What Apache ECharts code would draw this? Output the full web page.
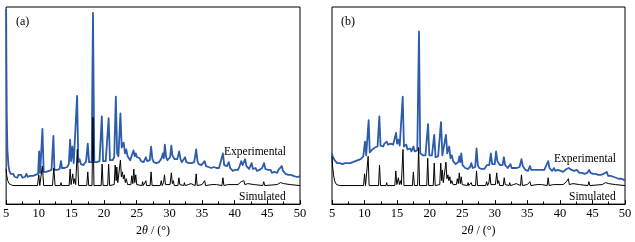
<!DOCTYPE html>
<html>
<head>
<meta charset="utf-8">
<script src="https://cdn.jsdelivr.net/npm/echarts@6/dist/echarts.min.js"></script>
<style>
  html, body { margin: 0; padding: 0; background: #fff; }
  #chart { width: 635px; height: 242px; }
</style>
</head>
<body>
<div id="chart"></div>
<script>
// x = 2theta (deg), y = intensity (arbitrary)
const xTicks = [5, 10, 15, 20, 25, 30, 35, 40, 45, 50];

const expA = [
  [5.0,200],[5.04,150],[5.1,90],[5.2,55],[5.35,40],[5.5,34],[5.7,31],[5.9,29],[6.1,31],[6.3,28],[6.5,30],[6.7,27],[6.9,30],[7.1,28],[7.3,30],[7.5,27],[7.7,29],[7.9,28],[8.1,31],[8.3,28],[8.5,30],[8.7,29],[8.9,31],[9.1,29],[9.3,31],[9.5,30],[9.7,32],[9.9,31],
  [10.05,54],[10.2,32],[10.35,33],[10.56,77],[10.75,33],[10.95,31],[11.15,33],[11.35,32],[11.55,34],[11.75,33],[11.95,35],[12.1,34],[12.24,70],[12.4,35],[12.6,36],[12.8,35],[13.0,37],[13.2,36],[13.4,44],[13.55,37],[13.75,38],[13.95,37],[14.15,39],[14.35,38],[14.6,41],[14.8,66],[14.95,44],[15.15,59],[15.35,42],[15.55,44],[15.87,111],[16.05,43],[16.25,46],[16.45,41],[16.65,43],[16.85,40],[17.05,42],[17.25,44],[17.5,62],[17.7,43],[17.9,41],[18.1,43],[18.3,196],[18.5,43],[18.7,41],[18.9,43],[19.1,42],[19.3,44],[19.5,45],[19.65,90],[19.85,44],
  [20.05,42],[20.25,44],[20.5,46],[20.7,88],[20.9,45],[21.1,43],[21.3,45],[21.55,48],[21.8,110],[22.0,52],[22.2,49],[22.5,93],[22.7,58],[23.0,63],[23.2,52],[23.4,56],[23.6,49],[23.8,47],[24.0,45],[24.2,47],[24.5,55],[24.7,49],[24.85,52],[25.05,48],[25.25,46],[25.45,47],[25.65,44],[25.85,46],[26.05,43],[26.2,45],[26.4,48],[26.6,44],[26.8,43],[27.0,45],[27.2,59],[27.4,46],[27.6,43],[27.8,44],[28.0,42],[28.2,44],[28.4,43],[28.6,45],[28.8,47],[29.0,52],[29.15,47],[29.3,61],[29.5,48],[29.7,45],[29.9,46],
  [30.1,48],[30.3,60],[30.45,50],[30.6,52],[30.8,46],[31.0,44],[31.2,46],[31.5,54],[31.7,46],[31.9,43],[32.1,44],[32.4,48],[32.6,43],[32.8,41],[33.0,42],[33.2,40],[33.4,42],[33.6,41],[33.8,43],[34.1,56],[34.3,44],[34.5,41],[34.7,39],[34.9,40],[35.1,38],[35.4,44],[35.6,39],[35.8,37],[36.0,38],[36.2,36],[36.4,37],[36.6,36],[36.8,38],[37.0,36],[37.2,37],[37.4,35],[37.6,37],[37.8,38],[38.2,52],[38.4,40],[38.6,38],[38.8,39],[39.1,43],[39.3,37],[39.5,35],[39.7,34],[39.9,36],
  [40.1,35],[40.3,37],[40.5,35],[40.7,38],[41.0,44],[41.2,40],[41.35,42],[41.6,46],[41.8,39],[42.0,37],[42.2,36],[42.4,38],[42.6,42],[42.8,36],[43.0,35],[43.2,37],[43.4,34],[43.6,36],[43.8,35],[44.0,36],[44.2,37],[44.5,42],[44.7,36],[44.9,34],[45.1,35],[45.3,33],[45.5,35],[45.7,32],[45.9,34],[46.1,33],[46.3,34],[46.5,32],[46.7,35],[46.9,36],[47.2,39],[47.4,34],[47.6,33],[47.8,31],[48.0,32],[48.2,30],[48.4,32],[48.6,30],[48.8,31],[49.0,29],[49.2,30],[49.4,28],[49.6,29],[49.8,28],[50.0,29]
];

const simA = [
  [5.0,36],[5.1,29],[5.25,24],[5.45,21],[5.7,20],[6.0,19],[9.8,19],[10.0,30],[10.15,19],[10.35,19],[10.55,39],[10.75,19],[12.1,19],[12.3,37],[12.5,19],[13.3,19],[13.4,22],[13.5,19],[14.65,19],[14.8,36],[14.95,20],[15.2,31],[15.35,21],[15.5,26],[15.65,20],[15.9,56],[16.1,19],[17.35,19],[17.5,33],[17.65,19],[18.15,19],[18.3,89],[18.45,19],[19.55,19],[19.7,41],[19.85,19],
  [20.55,19],[20.7,41],[20.85,19],[21.55,20],[21.7,40],[21.85,24],[21.95,38],[22.1,22],[22.35,24],[22.5,45],[22.65,28],[22.8,33],[22.95,26],[23.1,30],[23.25,22],[23.4,26],[23.6,20],[24.1,20],[24.25,29],[24.4,21],[24.55,36],[24.7,22],[24.85,30],[25.0,20],[25.8,19],[25.9,23],[26.0,19],[26.3,19],[26.4,24],[26.5,19],[27.05,19],[27.2,33],[27.35,19],[28.6,19],[28.75,24],[28.9,19],[29.1,22],[29.25,30],[29.4,20],
  [30.1,20],[30.3,32],[30.45,21],[30.6,24],[30.75,19],[31.3,19],[31.45,27],[31.6,20],[32.2,19],[32.3,22],[32.4,19],[32.9,20],[33.3,21],[33.95,19],[34.1,31],[34.25,19],[35.0,20],[35.3,19],[35.4,24],[35.55,19],[36.5,20],[37.2,20],[38.05,19],[38.2,27],[38.35,19],[39.0,20],[40.5,20],[41.0,23],[41.2,21],[41.4,24],[41.55,20],[42.0,21],[43.0,20],[44.3,19],[44.45,23],[44.6,19],[46.5,20],[47.0,22],[47.2,20],[47.5,21],[48.5,20],[50.0,19]
];

const expB = [
  [5.0,52],[5.1,49],[5.25,47],[5.4,45],[5.6,44],[5.8,42],[6.0,44],[6.2,42],[6.4,43],[6.6,41],[6.8,43],[7.0,42],[7.2,44],[7.4,42],[7.6,43],[7.8,42],[8.0,44],[8.2,43],[8.4,45],[8.6,44],[8.8,46],[9.0,45],[9.2,47],[9.4,46],[9.6,48],[9.8,49],
  [10.07,64],[10.25,50],[10.4,51],[10.63,86],[10.8,53],[11.0,54],[11.2,56],[11.4,55],[11.6,58],[11.8,57],[12.0,59],[12.27,90],[12.45,60],[12.65,61],[12.85,59],[13.05,62],[13.25,60],[13.4,64],[13.6,61],[13.8,60],[14.0,62],[14.2,60],[14.4,61],[14.6,62],[14.83,73],[15.0,62],[15.2,66],[15.4,60],[15.6,59],[15.86,110],[16.05,59],[16.25,57],[16.4,61],[16.6,56],[16.8,55],[17.0,57],[17.2,54],[17.5,59],[17.7,54],[17.9,53],[18.1,55],[18.36,177],[18.55,52],[18.75,53],[18.95,50],[19.15,52],[19.35,50],[19.55,52],[19.75,82],[19.95,50],
  [20.15,48],[20.35,50],[20.5,49],[20.7,71],[20.9,48],[21.1,47],[21.3,49],[21.5,48],[21.74,84],[21.95,50],[22.15,48],[22.5,71],[22.7,52],[23.0,59],[23.2,47],[23.4,50],[23.6,44],[23.8,42],[24.0,41],[24.2,40],[24.4,43],[24.56,49],[24.7,43],[24.85,52],[25.05,40],[25.25,38],[25.45,37],[25.65,38],[25.85,36],[26.05,37],[26.2,38],[26.4,42],[26.6,37],[26.8,36],[27.0,38],[27.2,57],[27.4,40],[27.6,37],[27.8,38],[28.0,36],[28.2,37],[28.4,36],[28.6,38],[28.8,40],[29.0,42],[29.15,40],[29.4,52],[29.6,41],[29.8,39],
  [30.0,41],[30.2,54],[30.4,44],[30.6,45],[30.8,40],[31.0,38],[31.2,40],[31.4,48],[31.6,40],[31.8,38],[32.0,37],[32.2,39],[32.4,41],[32.6,37],[32.8,36],[33.0,37],[33.2,35],[33.4,37],[33.6,36],[33.8,38],[34.1,46],[34.3,39],[34.5,37],[34.7,35],[34.9,36],[35.1,34],[35.4,39],[35.6,35],[35.8,34],[36.0,35],[36.2,33],[36.4,35],[36.6,34],[36.8,35],[37.0,33],[37.2,35],[37.4,34],[37.6,35],[37.8,36],[38.2,44],[38.4,37],[38.6,35],[38.8,34],[39.1,37],[39.3,34],[39.5,33],[39.7,35],[39.9,33],
  [40.1,34],[40.3,35],[40.5,33],[40.7,35],[41.0,36],[41.2,34],[41.35,37],[41.6,39],[41.8,35],[42.0,33],[42.2,34],[42.4,33],[42.6,35],[42.8,33],[43.0,32],[43.2,34],[43.4,32],[43.6,33],[43.8,31],[44.0,33],[44.2,32],[44.5,35],[44.7,32],[44.9,30],[45.1,31],[45.3,29],[45.5,31],[45.7,29],[45.9,30],[46.1,28],[46.3,30],[46.5,29],[46.7,31],[46.9,30],[47.2,33],[47.4,29],[47.6,28],[47.8,29],[48.0,27],[48.2,28],[48.4,26],[48.6,27],[48.8,25],[49.0,26],[49.2,25],[49.4,26],[49.6,24],[49.8,25],[50.0,24]
];

const simB = [
  [5.0,49],[5.1,38],[5.25,29],[5.45,23],[5.7,20],[6.2,19],[9.85,19],[10.0,31],[10.15,19],[10.4,19],[10.55,49],[10.7,19],[12.15,19],[12.3,40],[12.45,19],[13.3,19],[13.4,22],[13.5,19],[14.65,19],[14.8,34],[14.95,20],[15.2,27],[15.35,20],[15.5,24],[15.65,20],[15.9,56],[16.05,19],[17.35,19],[17.5,33],[17.65,19],[18.15,19],[18.3,58],[18.45,19],[19.55,19],[19.7,47],[19.85,19],
  [20.55,19],[20.7,42],[20.85,19],[21.55,20],[21.7,42],[21.85,24],[21.95,35],[22.1,22],[22.35,24],[22.5,43],[22.65,26],[22.8,30],[22.95,24],[23.1,28],[23.25,21],[23.4,24],[23.6,20],[24.1,20],[24.25,26],[24.4,21],[24.55,32],[24.7,21],[24.85,28],[25.0,20],[25.8,19],[25.9,22],[26.0,19],[26.3,19],[26.4,22],[26.5,19],[27.05,19],[27.2,34],[27.35,19],[28.6,19],[28.75,23],[28.9,19],[29.1,22],[29.25,31],[29.4,20],
  [30.1,20],[30.3,32],[30.45,21],[30.6,24],[30.75,19],[31.3,19],[31.45,27],[31.6,20],[32.2,19],[32.3,22],[32.4,19],[32.9,20],[33.3,21],[33.95,19],[34.1,30],[34.25,19],[35.0,20],[35.3,19],[35.4,23],[35.55,19],[36.5,20],[37.2,20],[38.05,19],[38.2,27],[38.35,19],[39.0,20],[40.5,20],[41.0,23],[41.15,21],[41.3,26],[41.45,20],[42.0,21],[43.0,20],[44.3,19],[44.45,23],[44.6,19],[46.5,20],[47.0,22],[47.2,20],[47.5,21],[48.5,20],[50.0,19]
];

const BLUE = '#2c5caa';
const SERIF = '"Liberation Serif", "DejaVu Serif", serif';

const chart = echarts.init(document.getElementById('chart'), null, { renderer: 'canvas' });

function xAxisFor(gridIndex) {
  return {
    type: 'value',
    gridIndex: gridIndex,
    min: xTicks[0],
    max: xTicks[xTicks.length - 1],
    interval: 5,
    axisLine: { show: true, lineStyle: { color: '#000', width: 1 } },
    axisTick: { show: true, inside: true, length: 4, lineStyle: { color: '#000' } },
    minorTick: { show: true, splitNumber: 2, length: 2.5, lineStyle: { color: '#000' } },
    splitLine: { show: false },
    axisLabel: { color: '#000', fontFamily: SERIF, fontSize: 12.5, margin: 3 },
    name: '2{i|θ} / (°)',
    nameLocation: 'middle',
    nameGap: 19,
    nameTextStyle: {
      color: '#000', fontFamily: SERIF, fontSize: 12,
      rich: { i: { fontStyle: 'italic', fontFamily: SERIF, fontSize: 12, color: '#000' } }
    }
  };
}

function yAxisFor(gridIndex) {
  return {
    type: 'value', gridIndex: gridIndex, min: 0, max: 202,
    show: false, splitLine: { show: false }
  };
}

function line(data, idx, color, width, z) {
  return {
    type: 'line', data: data, xAxisIndex: idx, yAxisIndex: idx,
    symbol: 'none', smooth: false, z: z,
    lineStyle: { color: color, width: width, join: 'round' }
  };
}

function label(text, left, top, size) {
  return {
    type: 'text', left: left, top: top, z: 100,
    style: { text: text, fill: '#000', font: size + 'px ' + SERIF }
  };
}

chart.setOption({
  animation: false,
  backgroundColor: '#fff',
  grid: [
    { left: 6, top: 7, width: 294, height: 202, show: true, borderColor: '#000', borderWidth: 1, backgroundColor: 'transparent' },
    { left: 332, top: 7, width: 293, height: 202, show: true, borderColor: '#000', borderWidth: 1, backgroundColor: 'transparent' }
  ],
  xAxis: [xAxisFor(0), xAxisFor(1)],
  yAxis: [yAxisFor(0), yAxisFor(1)],
  series: [
    line(expA, 0, BLUE, 1.8, 2),
    line(simA, 0, '#000', 1, 3),
    line(expB, 1, BLUE, 1.8, 2),
    line(simB, 1, '#000', 1, 3)
  ],
  graphic: [
    label('(a)', 16, 16, 12),
    label('(b)', 341, 16, 12),
    label('Experimental', 224, 146, 11.5),
    label('Simulated', 239, 191, 11.5),
    label('Experimental', 554, 153, 11.5),
    label('Simulated', 569, 191, 11.5)
  ]
});
</script>
</body>
</html>
